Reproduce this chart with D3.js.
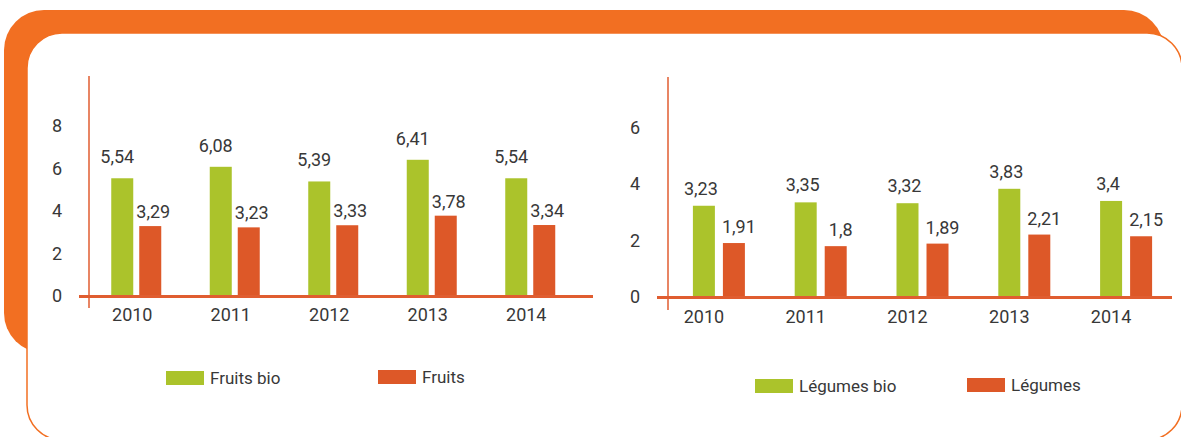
<!DOCTYPE html>
<html>
<head>
<meta charset="utf-8">
<script src="https://cdn.jsdelivr.net/npm/d3@7/dist/d3.min.js"></script>
<style>
  body { margin: 0; background: #fff; }
  svg text { font-family: Roboto, "Open Sans", sans-serif; font-weight: 400; fill: #383838; }
</style>
</head>
<body>
<div id="chart"></div>
<script>
const WIDTH = 1181;
const HEIGHT = 437;

const years = ["2010", "2011", "2012", "2013", "2014"];
const fruitsBio = [5.54, 6.08, 5.39, 6.41, 5.54];
const fruits = [3.29, 3.23, 3.33, 3.78, 3.34];
const legumesBio = [3.23, 3.35, 3.32, 3.83, 3.4];
const legumes = [1.91, 1.8, 1.89, 2.21, 2.15];
const fruitTicks = [0, 2, 4, 6, 8];
const legumeTicks = [0, 2, 4, 6];
const seriesKeys = ["bio", "conv"];

const GREEN = "#abc32b";
const RED = "#dd5828";
const FRAME = "#f26f22";
const AXIS = "#e05d30";

const svg = d3.select("#chart").append("svg")
    .attr("width", WIDTH)
    .attr("height", HEIGHT);

// frame : orange band behind a white rounded box
svg.append("rect")
    .attr("x", 4).attr("y", 10)
    .attr("width", 1160).attr("height", 343)
    .attr("rx", 40)
    .attr("fill", FRAME);

svg.append("rect")
    .attr("x", 27).attr("y", 33)
    .attr("width", 1155).attr("height", 407)
    .attr("rx", 35)
    .attr("fill", "#fff")
    .attr("stroke", FRAME)
    .attr("stroke-width", 1.5);

const fmt = v => String(v).replace(".", ",");

const drawChart = (cfg) => {
  const g = svg.append("g");

  const x = d3.scaleBand().domain(years).range(cfg.xRange);
  const x1 = d3.scaleBand().domain(seriesKeys).range(cfg.subRange).paddingInner(cfg.subPad);
  const y = d3.scaleLinear().domain(cfg.yDomain).range(cfg.yRange);

  const rows = years.map((yr, i) => ({ year: yr, bio: cfg.bio[i], conv: cfg.conv[i] }));

  // y tick labels
  g.selectAll(".ytick")
    .data(cfg.ticks)
    .enter().append("text")
    .attr("x", cfg.tickX)
    .attr("y", d => y(d))
    .attr("dy", "0.36em")
    .attr("text-anchor", "end")
    .style("font-size", "18px")
    .text(d => d);

  const groups = g.selectAll(".year")
    .data(rows)
    .enter().append("g")
    .attr("transform", d => "translate(" + (x(d.year) + x.bandwidth() / 2) + ",0)");

  groups.selectAll("rect")
    .data(d => seriesKeys.map(k => ({ key: k, value: d[k] })))
    .enter().append("rect")
    .attr("x", d => x1(d.key))
    .attr("width", x1.bandwidth())
    .attr("y", d => y(d.value))
    .attr("height", d => y(0) - y(d.value))
    .attr("fill", d => d.key == "bio" ? GREEN : RED);

  groups.selectAll(".val")
    .data(d => seriesKeys.map(k => ({ key: k, value: d[k] })))
    .enter().append("text")
    .attr("x", d => x1(d.key) + x1.bandwidth() / 2 + cfg.labelDx[d.key])
    .attr("y", d => y(d.value) - cfg.labelGap[d.key])
    .attr("text-anchor", "middle")
    .style("font-size", "18px")
    .text(d => fmt(d.value));

  // axes
  g.append("line")
    .attr("x1", cfg.axisX).attr("x2", cfg.axisX)
    .attr("y1", cfg.axisTop).attr("y2", cfg.axisBottom)
    .attr("stroke", AXIS).attr("stroke-width", 1.5);

  g.append("line")
    .attr("x1", cfg.baseFrom).attr("x2", cfg.baseTo)
    .attr("y1", y(0) + 0.5).attr("y2", y(0) + 0.5)
    .attr("stroke", AXIS).attr("stroke-width", 3);

  // year labels
  g.selectAll(".xlab")
    .data(years)
    .enter().append("text")
    .attr("x", d => x(d) + x.bandwidth() / 2 + cfg.yearDx)
    .attr("y", cfg.yearY)
    .attr("text-anchor", "middle")
    .style("font-size", "18px")
    .text(d => d);

  // legend
  const leg = g.selectAll(".leg")
    .data(cfg.legend)
    .enter().append("g")
    .attr("transform", d => "translate(" + d.x + "," + d.y + ")");

  leg.append("rect")
    .attr("width", 38).attr("height", 14)
    .attr("fill", d => d.color);

  leg.append("text")
    .attr("x", 44).attr("y", 13)
    .style("font-size", "17px")
    .text(d => d.name);
};

drawChart({
  bio: fruitsBio, conv: fruits, ticks: fruitTicks,
  xRange: [87, 579.5], subRange: [-25, 25], subPad: 0.214,
  yDomain: [0, 8], yRange: [296, 126],
  tickX: 62, axisX: 89, axisTop: 76, axisBottom: 308,
  baseFrom: 79, baseTo: 593,
  labelDx: { bio: -5, conv: 3 }, labelGap: { bio: 15, conv: 8 },
  yearDx: -4, yearY: 321,
  legend: [
    { name: "Fruits bio", color: GREEN, x: 166, y: 371 },
    { name: "Fruits", color: RED, x: 378, y: 370 }
  ]
});

drawChart({
  bio: legumesBio, conv: legumes, ticks: legumeTicks,
  xRange: [668, 1177], subRange: [-26, 26], subPad: 0.267,
  yDomain: [0, 6], yRange: [297, 127.5],
  tickX: 640, axisX: 668, axisTop: 77, axisBottom: 310,
  baseFrom: 657, baseTo: 1172,
  labelDx: { bio: -3, conv: 5 }, labelGap: { bio: 11, conv: 10 },
  yearDx: -15, yearY: 323,
  legend: [
    { name: "Légumes bio", color: GREEN, x: 755, y: 379 },
    { name: "Légumes", color: RED, x: 967, y: 378 }
  ]
});
</script>
</body>
</html>
